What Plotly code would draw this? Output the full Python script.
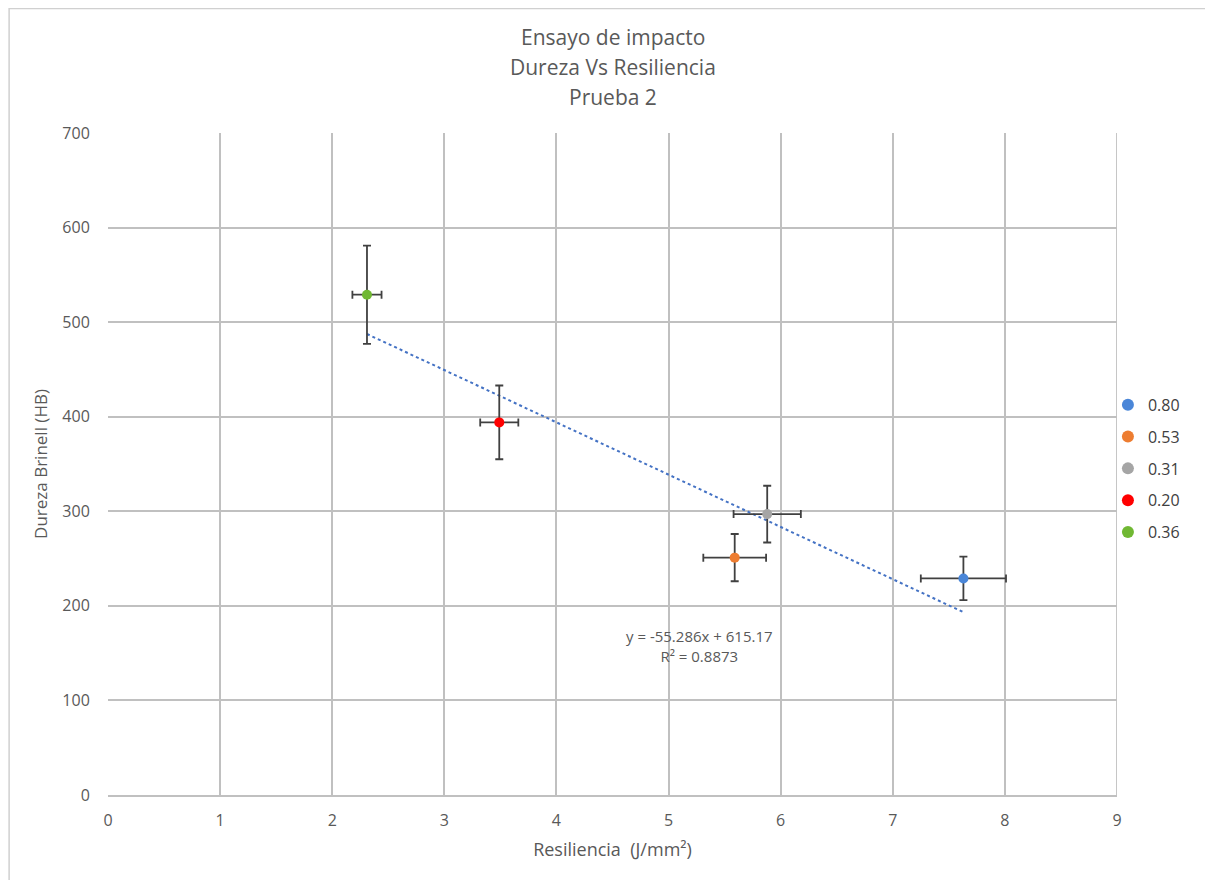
"""Ensayo de impacto: Dureza Vs Resiliencia, Prueba 2."""

from plotly import graph_objects as go

# data
labels = ["0.80", "0.53", "0.31", "0.20", "0.36"]
colors = ["#4a86d8", "#ed7d31", "#a5a5a5", "#ff0000", "#70b833"]
resiliencia = [7.63, 5.59, 5.88, 3.49, 2.31]
dureza = [229, 251, 297, 394, 529]
err_x = [0.38, 0.28, 0.30, 0.17, 0.13]
err_y = [23, 25, 30, 39, 52]

slope = -55.286
intercept = 615.17
r2 = 0.8873

title_lines = ["Ensayo de impacto", "Dureza Vs Resiliencia", "Prueba 2"]

font = "Open Sans"
grid = "#c0c0c0"
text_col = "#595959"

# the page body adds 8px around the figure
plot_h = 662

fig = go.Figure()

# linear trendline over the range of the data
x_min, x_max = min(resiliencia), max(resiliencia)
fig.add_trace(
    go.Scatter(
        x=[x_min, x_max],
        y=[slope * x_min + intercept, slope * x_max + intercept],
        mode="lines",
        line=dict(color="#4472c4", width=2, dash="dot"),
        showlegend=False,
        hoverinfo="skip",
    )
)

for lab, col, x, y, ex, ey in zip(labels, colors, resiliencia, dureza, err_x, err_y):
    fig.add_trace(
        go.Scatter(
            x=[x],
            y=[y],
            name=lab,
            legendgroup=lab,
            mode="markers",
            marker=dict(color=col, size=10),
            error_x=dict(type="data", array=[ex], color="#404040", thickness=1.8, width=4),
            error_y=dict(type="data", array=[ey], color="#404040", thickness=1.8, width=4),
        )
    )

fig.add_annotation(
    x=5.28,
    y=158,
    text=f"y = {slope}x + {intercept}<br>R² = {r2}",
    showarrow=False,
    font=dict(family=font, size=15, color=text_col),
    align="center",
)

# title, one annotation per line to keep the wide line spacing
for i, line in enumerate(title_lines):
    fig.add_annotation(
        xref="paper",
        yref="paper",
        x=0.5,
        y=1 + (96 - 30 * i) / plot_h,
        text=line,
        showarrow=False,
        yanchor="middle",
        font=dict(family=font, size=21, color=text_col),
    )

fig.update_layout(
    width=1213,
    height=880,
    paper_bgcolor="white",
    plot_bgcolor="white",
    margin=dict(l=100, r=104, t=125, b=93),
    font=dict(family=font, color=text_col),
    xaxis=dict(
        range=[0, 9],
        dtick=1,
        showgrid=True,
        gridcolor=grid,
        gridwidth=1.8,
        zeroline=False,
        showline=True,
        linecolor=grid,
        linewidth=1.8,
        ticks="outside",
        ticklen=10,
        tickcolor="rgba(0,0,0,0)",
        tickfont=dict(size=16, color=text_col),
        title=dict(text="Resiliencia  (J/mm²)", font=dict(size=18, color=text_col), standoff=13),
    ),
    yaxis=dict(
        range=[0, 700],
        dtick=100,
        showgrid=True,
        gridcolor=grid,
        gridwidth=1.8,
        zeroline=False,
        showline=False,
        ticks="outside",
        ticklen=14,
        tickcolor="rgba(0,0,0,0)",
        tickfont=dict(size=16, color=text_col),
        title=dict(text="Dureza Brinell (HB)", font=dict(size=17, color=text_col), standoff=10),
    ),
    legend=dict(
        x=0.991,
        xanchor="left",
        y=0.615,
        yanchor="top",
        bgcolor="rgba(0,0,0,0)",
        font=dict(size=16, color="#404040"),
        itemsizing="constant",
        tracegroupgap=8,
    ),
)

# right edge of the plot area
fig.add_shape(
    type="line", xref="x", yref="paper", x0=9, x1=9, y0=0, y1=1,
    line=dict(color=grid, width=1.8),
)
# outer chart border
fig.add_shape(
    type="rect", xref="paper", yref="paper", x0=-0.098, x1=1.092, y0=-0.14, y1=1.188,
    line=dict(color="#d0d0d0", width=1.5),
)

fig.write_html("out.html")
